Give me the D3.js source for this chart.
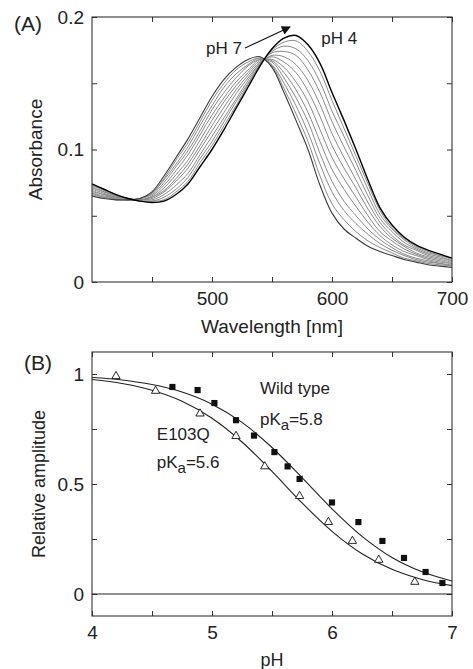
<!DOCTYPE html>
<html>
<head>
<meta charset="utf-8">
<script src="https://cdn.jsdelivr.net/npm/d3@7"></script>
<style>
  html, body { margin: 0; padding: 0; background: #fff; }
  svg { display: block; }
</style>
</head>
<body>
<div id="chart"></div>
<script>
// Panel (A): absorption spectra between pH 7 and pH 4
// Panel (B): relative amplitude vs pH with pKa fits

const wavelengths = [400, 410, 420, 430, 440, 450, 460, 470, 480, 490, 500, 510, 520, 530, 540, 550,
  560, 570, 580, 590, 600, 610, 620, 630, 640, 650, 660, 670, 680, 690, 700];

const absPH7 = [0.065, 0.063, 0.062, 0.062, 0.063, 0.068, 0.080, 0.094, 0.108, 0.124, 0.140, 0.153, 0.162, 0.168, 0.170, 0.162,
  0.143, 0.122, 0.100, 0.073, 0.052, 0.040, 0.033, 0.027, 0.023, 0.020, 0.017, 0.015, 0.013, 0.012, 0.011];

const absPH4 = [0.074, 0.070, 0.066, 0.063, 0.061, 0.060, 0.061, 0.066, 0.074, 0.087, 0.100, 0.115, 0.131, 0.147, 0.163, 0.176,
  0.184, 0.186, 0.179, 0.165, 0.143, 0.122, 0.100, 0.077, 0.056, 0.043, 0.034, 0.028, 0.024, 0.021, 0.018];

// intermediate spectra (gray), from pH 7 side to pH 4 side
const absMid1 = [0.066, 0.064, 0.062, 0.062, 0.063, 0.067, 0.078, 0.092, 0.105, 0.121, 0.137, 0.150, 0.160, 0.166, 0.169, 0.163,
  0.146, 0.127, 0.106, 0.080, 0.059, 0.047, 0.038, 0.031, 0.026, 0.022, 0.018, 0.016, 0.014, 0.013, 0.012];
const absMid2 = [0.067, 0.064, 0.063, 0.062, 0.063, 0.067, 0.077, 0.089, 0.102, 0.118, 0.133, 0.147, 0.157, 0.164, 0.169, 0.164,
  0.150, 0.133, 0.113, 0.089, 0.068, 0.054, 0.044, 0.036, 0.029, 0.024, 0.020, 0.017, 0.015, 0.014, 0.012];
const absMid3 = [0.067, 0.065, 0.063, 0.062, 0.063, 0.066, 0.075, 0.087, 0.099, 0.114, 0.130, 0.143, 0.154, 0.163, 0.168, 0.166,
  0.154, 0.139, 0.121, 0.097, 0.076, 0.061, 0.050, 0.040, 0.032, 0.026, 0.021, 0.018, 0.016, 0.014, 0.013];
const absMid4 = [0.068, 0.066, 0.063, 0.062, 0.062, 0.065, 0.073, 0.084, 0.096, 0.111, 0.126, 0.139, 0.151, 0.160, 0.168, 0.167,
  0.158, 0.145, 0.128, 0.106, 0.085, 0.070, 0.057, 0.045, 0.035, 0.028, 0.023, 0.020, 0.017, 0.015, 0.014];
const absMid5 = [0.069, 0.066, 0.064, 0.062, 0.062, 0.064, 0.071, 0.081, 0.092, 0.107, 0.122, 0.136, 0.148, 0.158, 0.167, 0.168,
  0.162, 0.151, 0.136, 0.115, 0.094, 0.078, 0.064, 0.050, 0.038, 0.031, 0.025, 0.021, 0.018, 0.016, 0.014];
const absMid6 = [0.070, 0.067, 0.064, 0.063, 0.062, 0.064, 0.069, 0.078, 0.089, 0.103, 0.118, 0.132, 0.145, 0.156, 0.166, 0.170,
  0.166, 0.158, 0.144, 0.125, 0.103, 0.086, 0.071, 0.055, 0.042, 0.033, 0.027, 0.022, 0.019, 0.017, 0.015];
const absMid7 = [0.071, 0.068, 0.065, 0.063, 0.062, 0.063, 0.068, 0.076, 0.086, 0.100, 0.114, 0.128, 0.142, 0.154, 0.165, 0.171,
  0.170, 0.164, 0.152, 0.134, 0.112, 0.094, 0.077, 0.060, 0.045, 0.035, 0.028, 0.024, 0.020, 0.018, 0.016];
const absMid8 = [0.072, 0.068, 0.065, 0.063, 0.062, 0.062, 0.066, 0.073, 0.082, 0.096, 0.110, 0.124, 0.138, 0.152, 0.165, 0.173,
  0.174, 0.171, 0.160, 0.143, 0.121, 0.102, 0.084, 0.065, 0.048, 0.038, 0.030, 0.025, 0.021, 0.019, 0.016];
const absMid9 = [0.073, 0.069, 0.065, 0.063, 0.061, 0.061, 0.064, 0.070, 0.079, 0.093, 0.106, 0.121, 0.136, 0.150, 0.164, 0.174,
  0.178, 0.176, 0.167, 0.151, 0.129, 0.110, 0.090, 0.070, 0.051, 0.040, 0.032, 0.026, 0.022, 0.020, 0.017];
const absMid10 = [0.073, 0.070, 0.066, 0.063, 0.061, 0.061, 0.062, 0.068, 0.076, 0.090, 0.103, 0.118, 0.133, 0.149, 0.164, 0.175,
  0.181, 0.182, 0.174, 0.159, 0.137, 0.116, 0.095, 0.074, 0.054, 0.041, 0.033, 0.027, 0.023, 0.020, 0.018];

const grayCurves = [absMid1, absMid2, absMid3, absMid4, absMid5, absMid6, absMid7, absMid8, absMid9, absMid10];

// Panel B measured points
const wtPH = [4.67, 4.88, 5.02, 5.20, 5.35, 5.52, 5.63, 5.73, 6.00, 6.22, 6.42, 6.60, 6.78, 6.92];
const wtAmp = [0.941, 0.927, 0.868, 0.790, 0.720, 0.645, 0.580, 0.523, 0.416, 0.327, 0.241, 0.164, 0.100, 0.050];
const e103qPH = [4.20, 4.53, 4.90, 5.20, 5.44, 5.73, 5.97, 6.17, 6.39, 6.69];
const e103qAmp = [0.990, 0.923, 0.820, 0.718, 0.580, 0.445, 0.327, 0.241, 0.155, 0.055];

// Panel B fit curves (pKa 5.8 and 5.6)
const fitPH = [4.0, 4.25, 4.5, 4.75, 5.0, 5.25, 5.5, 5.75, 6.0, 6.25, 6.5, 6.75, 7.0];
const fitWT = [0.984, 0.973, 0.952, 0.918, 0.863, 0.780, 0.666, 0.529, 0.387, 0.262, 0.166, 0.101, 0.059];
const fitE103Q = [0.975, 0.957, 0.926, 0.876, 0.799, 0.691, 0.557, 0.414, 0.285, 0.183, 0.112, 0.066, 0.038];

// ticks
const aXMajor = [500, 600, 700];
const aXMinor = [450, 550, 650];
const aYMajor = [0, 0.1, 0.2];
const aYMinor = [0.05, 0.15];
const bXMajor = [4, 5, 6, 7];
const bXMinor = [4.5, 5.5, 6.5];
const bYMajor = [0, 0.5, 1];
const bYMinor = [0.25, 0.75];

const W = 473, H = 669;
const font = '"Liberation Sans", Arial, Helvetica, sans-serif';
const ink = "#222";

const svg = d3.select("#chart").append("svg")
  .attr("width", W)
  .attr("height", H)
  .attr("viewBox", [0, 0, W, H]);

svg.append("rect").attr("width", W).attr("height", H).attr("fill", "#fff");

function frame(x, y, xMajor, xMinor, yMajor, yMinor) {
  const [x0, x1] = x.range();
  const [y0, y1] = y.range();
  const g = svg.append("g");
  const fmt = d3.format("~g");

  function style(sel) {
    sel.select(".domain").remove();
    sel.selectAll("line").attr("stroke", "#333").attr("stroke-width", 1);
    sel.selectAll("text").attr("font-family", font).attr("font-size", 19).attr("fill", ink);
  }

  g.append("g").attr("transform", "translate(0," + y0 + ")")
    .call(d3.axisBottom(x).tickValues(xMajor).tickSize(-5).tickPadding(10).tickFormat(fmt)).call(style);
  g.append("g").attr("transform", "translate(0," + y0 + ")")
    .call(d3.axisBottom(x).tickValues(xMinor).tickSize(-5).tickFormat("")).call(style);
  g.append("g").attr("transform", "translate(0," + y1 + ")")
    .call(d3.axisTop(x).tickValues(xMajor.concat(xMinor)).tickSize(-5).tickFormat("")).call(style);
  g.append("g").attr("transform", "translate(" + x0 + ",0)")
    .call(d3.axisLeft(y).tickValues(yMajor).tickSize(-5).tickPadding(8).tickFormat(fmt)).call(style);
  g.append("g").attr("transform", "translate(" + x0 + ",0)")
    .call(d3.axisLeft(y).tickValues(yMinor).tickSize(-5).tickFormat("")).call(style);
  g.append("g").attr("transform", "translate(" + x1 + ",0)")
    .call(d3.axisRight(y).tickValues(yMajor.concat(yMinor)).tickSize(-5).tickFormat("")).call(style);

  g.append("rect")
    .attr("x", x0).attr("y", y1)
    .attr("width", x1 - x0).attr("height", y0 - y1)
    .attr("fill", "none").attr("stroke", "#333").attr("stroke-width", 1.1);
}

// ---------- Panel A ----------
const xA = d3.scaleLinear().domain([400, 700]).range([92, 452]);
const yA = d3.scaleLinear().domain([0, 0.2]).range([282, 17]);

const lineA = d3.line()
  .x(function(d, i) { return xA(wavelengths[i]); })
  .y(function(d) { return yA(d); })
  .curve(d3.curveCatmullRom.alpha(0.5));

const spectra = svg.append("g").attr("fill", "none");
spectra.selectAll("path.mid")
  .data(grayCurves)
  .join("path")
  .attr("class", "mid")
  .attr("d", lineA)
  .attr("stroke", "#8a8a8a")
  .attr("stroke-width", 1);

spectra.append("path").attr("d", lineA(absPH7)).attr("stroke", "#3a3a3a").attr("stroke-width", 1.1);
spectra.append("path").attr("d", lineA(absPH4)).attr("stroke", "#000").attr("stroke-width", 1.4);

frame(xA, yA, aXMajor, aXMinor, aYMajor, aYMinor);

svg.append("text")
  .attr("x", 14).attr("y", 31)
  .attr("font-family", font).attr("font-size", 21).attr("fill", ink)
  .text("(A)");

svg.append("text")
  .attr("transform", "translate(42," + yA(0.1) + ") rotate(-90)")
  .attr("text-anchor", "middle")
  .attr("font-family", font).attr("font-size", 19).attr("fill", ink)
  .text("Absorbance");

svg.append("text")
  .attr("x", (xA.range()[0] + xA.range()[1]) / 2).attr("y", 333)
  .attr("text-anchor", "middle")
  .attr("font-family", font).attr("font-size", 19).attr("fill", ink)
  .text("Wavelength [nm]");

svg.append("text")
  .attr("x", xA(495)).attr("y", yA(0.172))
  .attr("font-family", font).attr("font-size", 17).attr("fill", ink)
  .text("pH 7");
svg.append("text")
  .attr("x", xA(591)).attr("y", yA(0.1795))
  .attr("font-family", font).attr("font-size", 17).attr("fill", ink)
  .text("pH 4");

// arrow pH 7 -> pH 4
const defs = svg.append("defs");
defs.append("marker")
  .attr("id", "head")
  .attr("viewBox", "0 -5 10 10")
  .attr("refX", 9).attr("refY", 0)
  .attr("markerWidth", 13).attr("markerHeight", 9)
  .attr("markerUnits", "userSpaceOnUse")
  .attr("orient", "auto")
  .append("path")
  .attr("d", "M0,-5L10,0L0,5Z")
  .attr("fill", "#111");

svg.append("line")
  .attr("x1", xA(527.5)).attr("y1", yA(0.1766))
  .attr("x2", xA(565)).attr("y2", yA(0.1925))
  .attr("stroke", "#111").attr("stroke-width", 1.1)
  .attr("marker-end", "url(#head)");

// ---------- Panel B ----------
const xB = d3.scaleLinear().domain([4, 7]).range([92, 452]);
const yB = d3.scaleLinear().domain([-0.1, 1.1]).range([616, 352]);

frame(xB, yB, bXMajor, bXMinor, bYMajor, bYMinor);

svg.append("line")
  .attr("x1", xB(4)).attr("x2", xB(7))
  .attr("y1", yB(0)).attr("y2", yB(0))
  .attr("stroke", "#222").attr("stroke-width", 1.1);

const lineB = d3.line()
  .x(function(d, i) { return xB(fitPH[i]); })
  .y(function(d) { return yB(d); })
  .curve(d3.curveCatmullRom.alpha(0.5));

svg.append("g").attr("fill", "none").attr("stroke", "#222").attr("stroke-width", 1.1)
  .selectAll("path")
  .data([fitWT, fitE103Q])
  .join("path")
  .attr("d", lineB);

svg.append("g")
  .selectAll("path")
  .data(wtPH)
  .join("path")
  .attr("transform", function(d, i) { return "translate(" + xB(d) + "," + yB(wtAmp[i]) + ")"; })
  .attr("d", d3.symbol(d3.symbolSquare, 38))
  .attr("fill", "#111");

svg.append("g")
  .selectAll("path")
  .data(e103qPH)
  .join("path")
  .attr("transform", function(d, i) { return "translate(" + xB(d) + "," + yB(e103qAmp[i]) + ")"; })
  .attr("d", d3.symbol(d3.symbolTriangle, 30))
  .attr("fill", "#fff")
  .attr("stroke", "#111")
  .attr("stroke-width", 0.9);

svg.append("text")
  .attr("x", 24).attr("y", 370)
  .attr("font-family", font).attr("font-size", 21).attr("fill", ink)
  .text("(B)");

svg.append("text")
  .attr("transform", "translate(45," + yB(0.5) + ") rotate(-90)")
  .attr("text-anchor", "middle")
  .attr("font-family", font).attr("font-size", 18).attr("fill", ink)
  .text("Relative amplitude");

svg.append("text")
  .attr("x", (xB.range()[0] + xB.range()[1]) / 2).attr("y", 666)
  .attr("text-anchor", "middle")
  .attr("font-family", font).attr("font-size", 18).attr("fill", ink)
  .text("pH");

function label(x, y, parts) {
  const t = svg.append("text")
    .attr("x", x).attr("y", y)
    .attr("font-family", font).attr("font-size", 17).attr("fill", ink);
  parts.forEach(function(p) {
    const s = t.append("tspan").text(p.text);
    if (p.dy) s.attr("dy", p.dy);
    if (p.size) s.attr("font-size", p.size);
  });
}

label(xB(5.4), yB(0.909), [{ text: "Wild type" }]);
label(xB(5.4), yB(0.768), [{ text: "pK" }, { text: "a", dy: 5, size: 15 }, { text: "=5.8", dy: -5 }]);
label(xB(4.54), yB(0.70), [{ text: "E103Q" }]);
label(xB(4.54), yB(0.573), [{ text: "pK" }, { text: "a", dy: 5, size: 15 }, { text: "=5.6", dy: -5 }]);
</script>
</body>
</html>
